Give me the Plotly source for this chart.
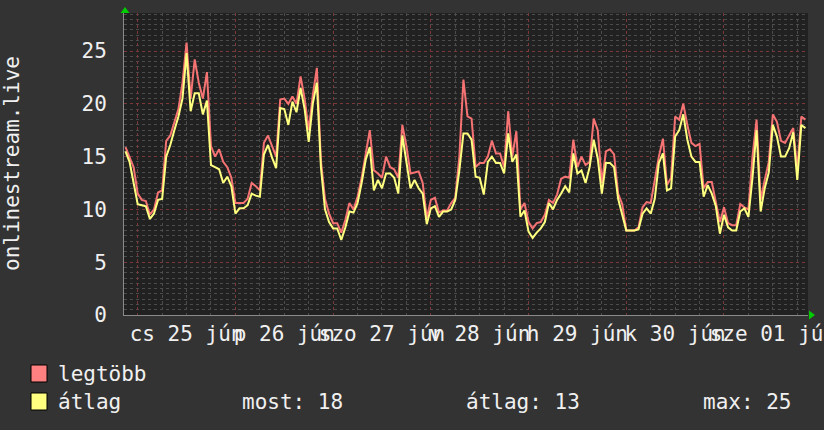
import plotly.graph_objects as go
import pandas as pd

# ---------------- data ----------------
START = "2020-06-24 21:00"   # first sample, hourly samples
STEP = "1h"

avg_vals = [
    15.5, 14.5, 12.5, 10.5, 10.4, 10.3, 9.1, 9.6, 10.9, 11.0, 15.0, 16.1, 17.5, 18.8, 20.5, 24.8,
    19.3, 21.0, 21.0, 19.0, 20.3, 14.2, 14.0, 13.8, 12.5, 13.1, 12.2, 9.6, 10.1, 10.1, 10.4, 11.5, 11.3,
    11.2, 15.2, 16.1, 14.9, 13.9, 19.6, 19.5, 18.0, 20.2, 19.2, 21.5, 19.5, 16.4, 20.0, 22.0, 14.0,
    10.0, 8.8, 8.2, 8.2, 7.1, 8.3, 9.8, 9.7, 10.6, 12.5, 14.7, 15.9, 11.8, 12.8, 12.0, 13.4, 13.4, 13.0, 11.5,
    17.0, 14.5, 12.0, 12.8, 12.0, 11.5, 8.6, 10.1, 10.3, 9.3, 9.8, 9.8, 10.0, 10.9, 13.7, 17.2, 17.2,
    16.6, 13.1, 13.0, 11.4, 14.5, 15.0, 14.4, 14.4, 13.4, 17.2, 14.5, 15.2, 9.3, 9.9, 7.9, 7.3, 7.8,
    8.2, 8.8, 10.6, 10.0, 10.9, 11.5, 12.2, 11.6, 15.3, 13.4, 13.7, 12.5, 14.0, 16.6, 14.8, 11.5, 14.4,
    14.4, 14.0, 11.0, 9.5, 8.0, 8.0, 8.0, 8.1, 9.6, 10.1, 9.6, 11.0, 14.4, 15.3, 11.8, 12.0, 16.9, 17.5,
    19.0, 16.6, 15.0, 14.5, 14.5, 11.2, 12.3, 11.5, 10.3, 7.7, 9.5, 8.3, 8.0, 8.0, 9.8, 10.1, 9.3, 13.0,
    17.5, 9.8, 12.0, 13.5, 18.0, 16.9, 15.0, 15.0, 15.8, 17.3, 12.8, 18.0, 17.7,
]
max_vals = [
    15.9, 15.0, 14.0, 11.5, 10.9, 10.8, 9.5, 10.0, 11.6, 11.8, 16.5, 17.0, 18.2, 19.5, 22.0, 25.8,
    20.5, 24.2, 22.0, 20.5, 23.0, 16.0, 15.0, 15.7, 14.5, 14.0, 13.0, 10.6, 10.6, 10.6, 11.0, 12.5, 12.2,
    11.8, 16.3, 17.0, 16.0, 15.0, 20.4, 20.5, 20.0, 20.7, 20.0, 22.6, 20.5, 17.5, 20.8, 23.4, 14.6,
    11.0, 9.6, 8.7, 8.7, 7.8, 9.0, 10.6, 10.0, 11.2, 13.0, 15.3, 17.5, 13.7, 13.4, 13.0, 15.0, 14.0, 13.8, 13.0,
    18.0, 16.0, 13.4, 13.5, 13.6, 12.5, 9.2, 10.9, 11.1, 9.7, 9.9, 9.9, 10.6, 11.1, 15.0, 22.3, 18.8,
    18.6, 14.0, 14.4, 14.4, 15.0, 16.5, 15.3, 15.3, 14.0, 19.3, 15.0, 17.4, 10.0, 10.6, 8.8, 8.2, 8.7,
    8.8, 9.5, 10.9, 10.6, 11.4, 12.9, 13.1, 13.0, 16.6, 14.0, 15.0, 14.2, 14.5, 18.6, 17.5, 12.5, 15.5,
    15.7, 15.2, 11.5, 10.5, 8.0, 8.0, 8.0, 8.3, 10.2, 10.7, 10.6, 12.8, 15.0, 16.7, 12.3, 13.0, 18.8, 18.5,
    20.0, 18.0, 16.3, 16.0, 16.2, 12.0, 12.6, 12.6, 10.8, 8.8, 10.2, 8.7, 8.5, 8.5, 10.5, 10.2, 10.0, 15.0,
    18.5, 10.9, 12.8, 14.5, 19.0, 18.3, 16.5, 16.3, 17.0, 17.7, 13.8, 18.8, 18.5,
]

day_ticks = ["2020-06-25 12:00", "2020-06-26 12:00", "2020-06-27 12:00", "2020-06-28 12:00",
             "2020-06-29 12:00", "2020-06-30 12:00", "2020-07-01 12:00"]
day_labels = ["cs 25 jún", "p 26 jún", "szo 27 jún", "v 28 jún", "h 29 jún", "k 30 jún", "sze 01 júl"]

x_range = ["2020-06-24 20:38", "2020-07-01 20:38"]
y_range = [0, 28.6]
y_title = "onlinestream.live"
name_max = "legtöbb"
name_avg = "átlag"

times = pd.date_range(START, periods=len(avg_vals), freq=STEP)

# ---------------- style ----------------
W, H = 824, 430
ML, MR, MT, MB = 124, 16, 13, 115
FONT = "DejaVu Sans Mono"
TXT = "#f0f0f0"
RED = "#f57373"
YEL = "#ffff80"
BOX_RED = "#ff8080"
GRID_MINOR = "#4c4c4c"
GRID_MAJOR = "#7a3838"


def px_x(px):
    return (px - ML) / (W - ML - MR)


def px_y(py):
    return (H - MB - py) / (H - MT - MB)


fig = go.Figure()
fig.add_trace(go.Scatter(x=times, y=max_vals, mode="lines", name=name_max,
                         line=dict(color=RED, width=2)))
fig.add_trace(go.Scatter(x=times, y=avg_vals, mode="lines", name=name_avg,
                         line=dict(color=YEL, width=2)))

now_v = avg_vals[-1]
mean_v = sum(avg_vals) / len(avg_vals)
max_v = max(avg_vals)

fig.update_layout(
    width=W, height=H,
    margin=dict(l=ML, r=MR, t=MT, b=MB, pad=0, autoexpand=False),
    paper_bgcolor="#333333",
    plot_bgcolor="#212121",
    showlegend=False,
    font=dict(family=FONT, size=21, color=TXT),
    xaxis=dict(
        type="date", range=x_range, automargin=False,
        tick0="2020-06-25", dtick=86400000,
        showticklabels=False, ticks="",
        showgrid=True, gridcolor=GRID_MAJOR, griddash="dot", gridwidth=1,
        minor=dict(dtick=21600000, showgrid=True, gridcolor=GRID_MINOR, griddash="dot", gridwidth=1),
        showline=True, linecolor="#8a8a8a", linewidth=1, zeroline=False,
    ),
    xaxis2=dict(
        type="date", range=x_range, overlaying="x", anchor="y", side="bottom",
        automargin=False,
        tickmode="array", tickvals=day_ticks, ticktext=day_labels,
        tickangle=0, ticklabeloverflow="allow",
        showgrid=False, showline=False, zeroline=False, ticks="",
        tickfont=dict(family=FONT, size=21, color=TXT),
        ticklabelstandoff=4,
    ),
    yaxis=dict(
        range=y_range, tick0=0, dtick=5, automargin=False,
        showgrid=True, gridcolor=GRID_MAJOR, griddash="dot", gridwidth=1,
        minor=dict(dtick=0.5, showgrid=True, gridcolor=GRID_MINOR, griddash="dot", gridwidth=1),
        showline=True, linecolor="#8a8a8a", linewidth=1, zeroline=False,
        ticks="", tickfont=dict(family=FONT, size=21, color=TXT),
        ticklabelstandoff=12,
    ),
)

# dummy trace on xaxis2 so the axis is drawn
fig.add_trace(go.Scatter(x=[times[0]], y=[None], xaxis="x2", mode="lines",
                         showlegend=False, hoverinfo="skip"))

# axis arrows (green)
fig.add_shape(type="path", xref="paper", yref="paper",
              path=f"M {px_x(120.5)} {px_y(13)} L {px_x(129.5)} {px_y(13)} L {px_x(125)} {px_y(7)} Z",
              fillcolor="#00cc00", line=dict(width=0))
fig.add_shape(type="path", xref="paper", yref="paper",
              path=f"M {px_x(809)} {px_y(310.5)} L {px_x(809)} {px_y(319.5)} L {px_x(815)} {px_y(315)} Z",
              fillcolor="#00cc00", line=dict(width=0))

# legend boxes
for y0, y1, col in [(382, 365, BOX_RED), (410, 393, YEL)]:
    fig.add_shape(type="rect", xref="paper", yref="paper",
                  x0=px_x(31), x1=px_x(47), y0=px_y(y0), y1=px_y(y1),
                  fillcolor=col, line=dict(color="#000000", width=1))

legend_items = [
    (56, 374, name_max),
    (56, 402, name_avg),
    (240, 402, f"most: {now_v:.0f}"),
    (464, 402, f"átlag: {mean_v:.0f}"),
    (701, 402, f"max: {max_v:.0f}"),
]
for px, py, txt in legend_items:
    fig.add_annotation(x=px_x(px), y=px_y(py), xref="paper", yref="paper",
                       text=txt, showarrow=False, xanchor="left", yanchor="middle",
                       font=dict(family=FONT, size=21, color=TXT))

fig.add_annotation(x=px_x(12), y=px_y(164), xref="paper", yref="paper",
                   text=y_title, textangle=-90, showarrow=False,
                   xanchor="center", yanchor="middle",
                   font=dict(family=FONT, size=21, color=TXT))

fig.write_html("out.html", config={"displayModeBar": False})
